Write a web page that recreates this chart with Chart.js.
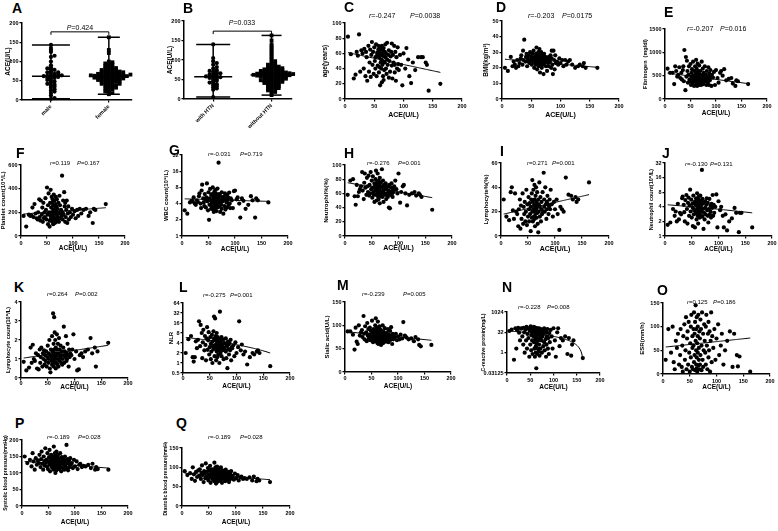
<!DOCTYPE html>
<html>
<head>
<meta charset="utf-8">
<script src="https://cdn.jsdelivr.net/npm/chart.js@4.4.1/dist/chart.umd.min.js"></script>
<style>
  body { margin: 0; background: #fff; width: 778px; height: 531px; position: relative; overflow: hidden;
         font-family: "Liberation Sans", Arial, sans-serif; color: #000; }
  canvas { position: absolute; }
  .letter { position: absolute; font-weight: bold; font-size: 14px; line-height: 1; }
  .stat { position: absolute; line-height: 1; white-space: pre; }
</style>
</head>
<body>
<script>
const FONT = '"Liberation Sans", Arial, sans-serif';

// ACE (U/L) of each patient, shared x for the correlation panels
const ace = [
  5, 10, 15, 18, 20, 22, 24, 26, 28, 30,
  32, 33, 35, 36, 37, 38, 40, 41, 42, 43, 44, 45,
  46, 47, 48, 49, 50, 51, 52, 52, 53, 54, 55, 55, 56, 57,
  57, 58, 58, 59, 59, 60, 60, 61, 61, 62, 62, 62, 63, 63, 63, 64, 64, 65, 65, 65, 66, 66, 67, 67, 68, 68,
  69, 69, 70, 70, 71, 72, 72, 73, 74, 75, 75, 76, 77, 78,
  79, 80, 80, 81, 82, 83, 84, 85, 85, 86, 87, 88, 89, 90, 91, 92,
  94, 96, 98, 100, 103, 105, 108, 110, 113, 116,
  120, 125, 130, 133, 138, 140, 143, 163
];
const aceTicks = [0, 50, 100, 150, 200];

// A / B: ACE by group
const maleAce = [3, 5, 12, 18, 22, 25, 28, 32, 35, 38, 40, 42, 45, 48, 50, 52, 55, 57, 58, 60, 60, 62, 62, 63, 64,
  65, 66, 68, 70, 72, 72, 75, 78, 80, 82, 85, 90, 100, 112, 115, 125, 130, 135, 143];
const femaleAce = [15, 18, 20, 22, 25, 28, 30, 30, 32, 35, 35, 38, 38, 40, 40, 42, 42, 44, 45, 45, 47, 48, 48, 50,
  50, 50, 52, 52, 53, 54, 55, 55, 55, 56, 57, 57, 58, 58, 59, 60, 60, 60, 61, 62, 62, 62, 63, 63, 64, 64, 65, 65,
  65, 66, 66, 67, 68, 68, 69, 70, 70, 71, 72, 72, 73, 74, 75, 75, 76, 78, 78, 80, 80, 82, 83, 85, 85, 88, 90, 92,
  95, 95, 98, 100, 122, 130, 163];
const sexMedian = [62, 62];
const htnAce = [5, 24, 27, 30, 33, 35, 38, 40, 42, 45, 47, 50, 52, 54, 55, 56, 57, 58, 60, 62, 63, 65, 66, 68, 70,
  72, 74, 78, 82, 88, 92, 97, 105, 140];
const noHtnAce = [10, 15, 18, 20, 22, 24, 25, 27, 28, 30, 30, 32, 33, 35, 35, 37, 38, 40, 40, 41, 42, 43, 44, 45,
  45, 46, 47, 48, 48, 49, 50, 50, 51, 52, 52, 53, 54, 55, 55, 56, 57, 57, 58, 58, 59, 60, 60, 60, 61, 61, 62, 62,
  62, 63, 63, 64, 64, 65, 65, 65, 66, 66, 67, 67, 68, 68, 69, 70, 70, 71, 72, 72, 73, 74, 75, 75, 76, 77, 78, 79,
  80, 80, 82, 83, 85, 86, 88, 90, 92, 95, 97, 100, 105, 110, 115, 120, 125, 130, 135, 140, 150, 163];
const htnMedian = [57, 61.5];
const groupTicks = [0, 50, 100, 150, 200];

// C .. Q: y values (same order as ace) and fitted line at min / max ACE
const age = [82, 59, 27, 32, 62, 57, 85, 36, 64, 60,
  40, 66, 30, 62, 55, 24, 70, 36, 48, 65, 29, 58,
  75, 45, 62, 33, 68, 50, 40, 55, 72, 30, 61, 58, 44, 65,
  70, 35, 55, 62, 42, 68, 18, 58, 48, 66, 40, 52, 60, 22, 70, 45, 57, 64, 30, 50, 67, 25, 56, 38, 62, 48,
  55, 72, 40, 60, 33, 52, 74, 45, 58, 28, 64, 50, 36, 56,
  62, 44, 73, 27, 58, 48, 70, 35, 45, 62, 24, 55, 40, 68, 46, 38,
  58, 45, 18, 60, 40, 67, 52, 30, 21, 48,
  38, 55, 55, 55, 48, 45, 11, 20];
const ageTicks = [0, 20, 40, 60, 80, 100];
const ageFit = [61, 35];

const bmi = [20, 18, 27, 21, 24, 22, 20, 25, 21, 23,
  26, 28, 22, 31, 25, 38, 24, 27, 29, 21, 26, 24,
  28, 23, 30, 25, 27, 22, 26, 29, 24, 31, 25, 20, 27, 23,
  26, 29, 22, 33, 25, 27, 19, 28, 24, 30, 26, 23, 27, 21, 29, 25, 32, 24, 28, 17, 26, 22, 30, 25, 20, 27,
  24, 28, 22, 26, 16, 25, 29, 23, 27, 21, 24, 26, 18, 25,
  23, 27, 21, 25, 24, 28, 20, 26, 31, 22, 16, 31, 25, 19, 28, 23,
  24, 22, 26, 23, 25, 21, 25, 22, 24, 25,
  22, 20, 21, 22, 21, 23, 20, 20];
const bmiTicks = [0, 10, 20, 30, 40, 50];
const bmiFit = [25.5, 20.3];

const fib = [650, 560, 560, 320, 700, 600, 480, 520, 680, 450,
  560, 420, 620, 700, 380, 1050, 190, 900, 480, 820, 600, 350,
  520, 700, 420, 380, 750, 300, 560, 480, 640, 350, 420, 800, 500, 280,
  450, 600, 380, 700, 520, 300, 480, 840, 420, 560, 350, 650, 400, 280, 500, 760, 430, 330, 600, 470, 380, 540, 300, 720, 450, 400,
  350, 600, 420, 520, 300, 800, 450, 380, 650, 500, 320, 560, 420, 700,
  380, 520, 450, 300, 600, 420, 350, 680, 480, 300, 550, 400, 620, 460, 280, 520,
  460, 580, 300, 620, 450, 350, 560, 600, 500, 640,
  400, 430, 450, 330, 280, 400, 380, 320];
const fibTicks = [0, 500, 1000, 1500];
const fibFit = [555, 330];

const plt = [170, 80, 180, 170, 175, 240, 160, 270, 190, 150,
  140, 200, 310, 160, 130, 300, 180, 240, 120, 280, 150, 200,
  160, 320, 220, 140, 410, 180, 260, 100, 360, 200, 130, 80, 280, 170,
  390, 150, 240, 200, 330, 120, 280, 180, 310, 220, 100, 260, 160, 350, 200, 140, 300, 230, 110, 190, 270, 150, 330, 210, 120, 250,
  180, 310, 140, 230, 160, 280, 200, 120, 340, 190, 260, 150, 220, 170,
  510, 200, 140, 300, 180, 370, 250, 120, 280, 160, 220, 300, 110, 190, 250, 140,
  200, 160, 230, 180, 210, 150, 220, 170, 230, 190,
  220, 230, 170, 200, 110, 230, 220, 270];
const pltTicks = [0, 200, 400, 600];
const pltFit = [186, 239];

const wbc = [3, 2.6, 4.2, 4.5, 4.4, 5.2, 4.0, 3.8, 4.6, 4.3,
  5.5, 6.2, 4.0, 3.3, 7.0, 9.0, 5.0, 4.2, 3.6, 6.0, 4.8, 3.4,
  5.2, 9.5, 4.4, 3.0, 6.5, 2.0, 5.0, 3.8, 7.5, 4.6, 3.2, 5.8, 4.1, 3.5,
  6.0, 4.2, 8.0, 3.1, 5.2, 4.7, 2.8, 6.6, 3.8, 4.4, 5.5, 3.3, 7.2, 4.0, 5.0, 3.6, 6.2, 4.6, 2.9, 5.4, 3.9, 4.8, 7.6, 3.4, 5.7, 4.3,
  23, 5.2, 3.5, 6.0, 4.2, 2.8, 5.6, 4.5, 3.8, 6.5, 3.2, 5.0, 4.4, 2.6,
  5.4, 3.6, 4.8, 6.2, 3.1, 5.0, 4.2, 5.8, 3.4, 4.6, 5.2, 3.8, 6.4, 4.0, 3.3, 5.0,
  4.6, 3.3, 6.8, 7.0, 4.8, 5.2, 4.0, 2.2, 5.0, 4.5,
  3.2, 3.8, 5.5, 4.6, 2.2, 5.0, 4.6, 4.2];
const wbcTicks = [1, 2, 4, 8, 16, 32];
const wbcFit = [4.9, 4.4];

const neuPct = [58, 78, 80, 56, 44, 72, 56, 62, 66, 70,
  90, 64, 52, 75, 88, 68, 58, 82, 70, 62, 85, 57,
  72, 60, 90, 66, 78, 54, 68, 84, 62, 58, 74, 48, 70, 80,
  65, 92, 58, 72, 50, 76, 62, 68, 88, 55, 70, 64, 60, 78, 52, 74, 66, 58, 82, 46, 70, 62, 75, 56, 68, 60,
  94, 62, 70, 55, 78, 64, 48, 72, 60, 68, 58, 74, 52, 66,
  60, 70, 55, 64, 40, 72, 39, 62, 58, 68, 74, 60, 55, 66, 62, 70,
  78, 66, 60, 88, 47, 62, 70, 72, 60, 43,
  58, 60, 62, 57, 60, 58, 55, 37];
const neuPctTicks = [0, 20, 40, 60, 80, 100];
const neuPctFit = [75, 54];

const lymPct = [30, 16, 13, 36, 40, 21, 14, 35, 20, 18,
  8, 22, 30, 6, 25, 14, 35, 10, 24, 18, 28, 12,
  20, 38, 9, 26, 16, 32, 22, 12, 27, 18, 4, 24, 30, 15,
  35, 20, 46, 12, 28, 22, 38, 16, 25, 30, 14, 42, 20, 26, 8, 33, 18, 24, 40, 22, 15, 28, 19, 36, 10, 24,
  3, 30, 20, 26, 44, 16, 24, 32, 12, 22, 28, 18, 36, 20,
  52, 24, 30, 20, 40, 26, 14, 28, 22, 33, 26, 18, 24, 30, 22, 38,
  26, 16, 28, 22, 30, 18, 5, 24, 22, 20,
  48, 34, 33, 30, 32, 28, 30, 44];
const lymPctTicks = [0, 20, 40, 60];
const lymPctFit = [18, 34];

const neuCount = [1.7, 1.9, 3.6, 2.6, 3.2, 2.0, 4.6, 2.2, 3.0, 2.8,
  6.0, 6.5, 4.4, 3.1, 2.0, 5.5, 7.0, 3.6, 1.8, 4.8, 6.2, 2.6,
  4.2, 9.0, 3.2, 5.6, 2.4, 4.6, 1.6, 3.8, 6.8, 2.8, 5.0, 3.4, 1.5, 4.4,
  5.2, 3.0, 6.0, 4.4, 2.2, 7.6, 3.6, 4.8, 2.6, 5.6, 4.0, 1.8, 3.4, 6.4, 2.9, 4.6, 3.2, 5.0, 2.4, 4.2, 3.8, 6.8, 2.7, 4.0, 3.2, 5.4,
  23, 4.5, 2.5, 5.8, 3.6, 1.4, 4.8, 3.0, 2.2, 5.2, 3.8, 2.8, 4.4, 6.0,
  3.4, 2.6, 4.8, 1.9, 3.6, 5.8, 2.8, 4.2, 3.2, 2.4, 4.6, 3.8, 7.0, 2.6, 4.4, 3.0,
  4.0, 7.2, 1.5, 5.2, 3.4, 4.0, 2.6, 1.5, 2.8, 1.3,
  2.0, 2.3, 3.8, 3.0, 1.2, 3.0, 3.0, 1.5];
const neuCountTicks = [1, 2, 4, 8, 16, 32];
const neuCountFit = [4.4, 3.0];

const lymCount = [0.85, 0.4, 0.55, 1.6, 0.8, 1.75, 1.0, 0.9, 1.3, 0.5,
  1.2, 0.45, 1.5, 0.8, 1.1, 1.6, 0.6, 1.3, 1.0, 1.45, 0.7, 1.2,
  0.9, 1.4, 0.6, 1.1, 1.7, 0.8, 1.3, 1.0, 2.0, 0.5, 1.2, 0.3, 1.5, 0.9,
  1.1, 2.2, 0.7, 1.4, 0.9, 3.4, 1.2, 1.8, 0.6, 3.2, 1.0, 1.5, 2.4, 0.8, 1.3, 1.1, 2.0, 0.5, 1.6, 1.0, 1.3, 0.8, 2.3, 1.2, 0.7, 1.5,
  1.0, 1.8, 0.6, 1.3, 2.1, 0.9, 1.5, 1.1, 1.7, 0.8, 1.2, 1.4, 0.7, 1.0,
  1.6, 1.2, 2.7, 0.8, 1.4, 1.1, 2.2, 0.9, 1.3, 1.0, 1.8, 1.2, 0.6, 1.5, 1.1, 1.3,
  1.2, 1.5, 2.3, 1.0, 1.4, 0.4, 0.45, 1.2, 1.3, 1.1,
  1.4, 1.5, 2.1, 1.3, 1.6, 0.6, 1.4, 1.85];
const lymCountTicks = [0, 1, 2, 3, 4];
const lymCountFit = [1.05, 1.72];

const nlr = [2.0, 5.2, 6.5, 1.5, 1.1, 1.5, 4.5, 2.8, 5.0, 18,
  3.2, 14, 8.0, 1.4, 4.2, 10, 2.4, 6.5, 3.5, 1.2, 5.5, 12,
  2.5, 4.8, 8.5, 1.8, 3.0, 6.0, 1.3, 3.8, 2.2, 7.0, 4.4, 1.0, 3.2, 9.0,
  2.6, 5.4, 25, 3.4, 1.6, 4.8, 22, 2.8, 6.5, 1.2, 3.6, 5.0, 2.2, 8.0, 3.0, 1.5, 4.2, 2.6, 6.0, 3.4, 1.8, 4.6, 2.4, 3.8, 1.0, 5.2,
  35, 3.2, 2.0, 4.4, 2.8, 6.0, 1.6, 3.6, 2.4, 5.0, 3.0, 1.3, 4.0, 2.6,
  3.8, 2.2, 5.5, 1.4, 3.2, 0.7, 4.4, 2.6, 3.6, 1.8, 4.0, 2.4, 5.0, 1.2, 3.0, 2.8,
  3.4, 1.6, 4.2, 2.0, 3.0, 18, 2.4, 3.6, 1.8, 2.2,
  0.9, 1.5, 2.0, 1.8, 2.2, 2.4, 2.0, 0.8];
const nlrTicks = [0.5, 1, 2, 4, 8, 16, 32, 64];
const nlrFit = [5.9, 2.0];

const sialic = [87, 87, 80, 48, 95, 65, 60, 100, 78, 85,
  90, 75, 120, 82, 70, 98, 85, 66, 105, 78, 92, 72,
  80, 95, 68, 88, 76, 110, 72, 84, 64, 92, 78, 70, 86, 100,
  75, 115, 66, 88, 80, 72, 95, 62, 84, 78, 108, 70, 90, 76, 60, 86, 74, 98, 68, 82, 64, 92, 78, 70, 85, 58,
  72, 88, 66, 80, 100, 74, 62, 86, 78, 94, 70, 82, 65, 76,
  84, 70, 78, 92, 64, 80, 74, 88, 68, 76, 96, 72, 60, 82, 70, 78,
  74, 82, 68, 76, 70, 80, 72, 107, 78, 74,
  70, 72, 66, 75, 70, 58, 55, 58];
const sialicTicks = [0, 50, 100, 150];
const sialicFit = [86, 68];

const crp = [40, 50, 0.3, 64, 2.0, 45, 70, 30, 8, 60,
  64, 16, 4, 70, 32, 1, 50, 8, 80, 2, 24, 64,
  12, 60, 0.5, 40, 4, 90, 20, 1.5, 64, 8, 32, 0.8, 50, 16,
  32, 6, 80, 2, 48, 0.5, 64, 10, 24, 1, 70, 3, 40, 16, 0.07, 56, 5, 32, 0.8, 12, 64, 2, 24, 8, 44, 1.2,
  64, 4, 20, 0.6, 40, 12, 2, 56, 8, 30, 1, 16, 48, 3,
  24, 6, 64, 1.5, 40, 10, 0.5, 32, 4, 16, 56, 2, 12, 0.8, 28, 6,
  48, 16, 2, 64, 8, 0.5, 32, 64, 3, 12,
  8, 16, 0.8, 12, 0.6, 4, 8, 0.4];
const crpTicks = [0.03125, 1, 32, 1024];
const crpFit = [40, 0.3];

const esr = [30, 95, 45, 100, 25, 10, 70, 55, 85, 20,
  40, 95, 15, 60, 5, 80, 105, 30, 50, 120, 10, 75,
  90, 20, 110, 45, 5, 65, 100, 35, 125, 15, 80, 55, 10, 95,
  60, 130, 25, 85, 40, 110, 8, 70, 145, 20, 50, 95, 12, 120, 35, 65, 5, 100, 45, 80, 18, 125, 30, 55, 90, 10,
  75, 20, 115, 40, 95, 8, 60, 130, 30, 85, 15, 50, 105, 70,
  45, 100, 20, 125, 60, 10, 85, 35, 110, 50, 90, 5, 70, 130, 25, 80,
  55, 95, 30, 75, 105, 40, 60, 85, 20, 50,
  70, 90, 15, 85, 40, 16, 37, 5];
const esrTicks = [0, 50, 100, 150];
const esrFit = [57, 76];

const sbp = [150, 130, 140, 120, 160, 135, 110, 145, 125, 138,
  130, 155, 118, 142, 165, 128, 110, 150, 136, 122, 175, 132,
  140, 120, 160, 112, 135, 148, 125, 170, 105, 138, 128, 155, 118, 142,
  132, 150, 115, 140, 125, 180, 110, 135, 145, 120, 160, 128, 100, 138, 152, 118, 130, 165, 108, 142, 126, 148, 114, 136, 122, 155,
  130, 145, 112, 138, 125, 160, 118, 135, 105, 148, 128, 140, 115, 132,
  125, 140, 110, 150, 120, 135, 185, 115, 130, 142, 108, 128, 138, 118, 145, 125,
  130, 115, 140, 120, 135, 112, 125, 128, 118, 122,
  120, 125, 115, 128, 110, 118, 112, 110];
const sbpTicks = [0, 50, 100, 150, 200];
const sbpFit = [135, 115];

const dbp = [90, 80, 85, 70, 100, 82, 65, 88, 75, 92,
  78, 95, 70, 86, 105, 80, 62, 90, 84, 72, 110, 76,
  88, 72, 98, 66, 82, 92, 75, 104, 60, 85, 78, 95, 70, 86,
  80, 94, 68, 86, 74, 112, 64, 82, 90, 72, 100, 78, 58, 84, 96, 70, 80, 102, 62, 88, 76, 92, 66, 82, 72, 95,
  78, 90, 65, 84, 74, 100, 68, 82, 60, 92, 76, 86, 70, 80,
  74, 86, 64, 94, 70, 82, 76, 68, 80, 88, 62, 78, 84, 70, 90, 74,
  78, 68, 84, 72, 80, 66, 74, 76, 70, 72,
  70, 74, 66, 76, 64, 70, 66, 62];
const dbpTicks = [0, 50, 100, 150];
const dbpFit = [85, 68];

// ---------- layout ----------
const scatterPanels = [
  {y: age, ticks: ageTicks, fit: ageFit, title: 'age(years)', box: [345, 23, 462, 99], yt: 20, xt: 16, yts: 6.5, xts: 7},
  {y: bmi, ticks: bmiTicks, fit: bmiFit, title: 'BMI(kg/m²)', box: [502, 21, 619, 99], yt: 16, xt: 16, yts: 6.5, xts: 7},
  {y: fib, ticks: fibTicks, fit: fibFit, title: 'Fibrinogen  (mg/dl)', box: [665, 29, 767, 99], yt: 20, xt: 14, yts: 5.5, xts: 6.5},
  {y: plt, ticks: pltTicks, fit: pltFit, title: 'Platelet count(10⁹/L)', box: [21, 165, 125, 236], yt: 17, xt: 12, yts: 6, xts: 6.5},
  {y: wbc, ticks: wbcTicks, fit: wbcFit, log: true, title: 'WBC count(10⁹/L)', box: [182, 155, 288, 236], yt: 15, xt: 13, yts: 6, xts: 6.5},
  {y: neuPct, ticks: neuPctTicks, fit: neuPctFit, title: 'Neutrophil%(%)', box: [345, 165, 452, 236], yt: 18, xt: 12, yts: 6, xts: 7},
  {y: lymPct, ticks: lymPctTicks, fit: lymPctFit, title: 'Lymphocyte%(%)', box: [501, 163, 609, 236], yt: 14, xt: 13, yts: 6, xts: 7},
  {y: neuCount, ticks: neuCountTicks, fit: neuCountFit, log: true, title: 'Neutrophil count(10⁹/L)', box: [665, 163, 772, 236], yt: 14, xt: 13, yts: 5.5, xts: 6.5},
  {y: lymCount, ticks: lymCountTicks, fit: lymCountFit, title: 'Lymphocyte count(10⁹/L)', box: [21, 302, 128, 378], yt: 13, xt: 9, yts: 5.5, xts: 6.5, xpad: 0},
  {y: nlr, ticks: nlrTicks, fit: nlrFit, log: true, title: 'NLR', box: [183, 303, 290, 373], yt: 11, xt: 13, yts: 6, xts: 6.5, xpad: 0},
  {y: sialic, ticks: sialicTicks, fit: sialicFit, title: 'Sialic acid(U/L)', box: [345, 302, 451, 372], yt: 17, xt: 14, yts: 6, xts: 6.5, xpad: 0.5},
  {y: crp, ticks: crpTicks, fit: crpFit, log: true, title: 'C-reactive protein(mg/L)', box: [507, 312, 600, 373], yt: 23, xt: 14, yts: 5, xts: 6.5},
  {y: esr, ticks: esrTicks, fit: esrFit, title: 'ESR(mm/h)', box: [663, 303, 770, 374], yt: 20, xt: 13, yts: 6, xts: 6.5},
  {y: sbp, ticks: sbpTicks, fit: sbpFit, title: 'Systolic blood pressure(mmHg)', box: [22, 440, 128, 506], yt: 16, xt: 16, yts: 5, xts: 6.5},
  {y: dbp, ticks: dbpTicks, fit: dbpFit, title: 'Diastolic blood pressure(mmHg)', box: [182, 448, 290, 506], yt: 16, xt: 16, yts: 5, xts: 6.5}
];

const groupPanels = [
  {groups: [maleAce, femaleAce], names: ['male', 'female'], styles: ['circle', 'rect'], med: sexMedian,
   box: [22, 23, 132, 100], xr: [0.5, 2.4], medHalf: [19, 20], capHalf: [19, 11], bracket: 177},
  {groups: [htnAce, noHtnAce], names: ['with HTN', 'without HTN'], styles: ['circle', 'rect'], med: htnMedian,
   box: [184, 21, 292, 99], xr: [0.5, 2.35], medHalf: [19, 21], capHalf: [17, 10], bracket: 174}
];

const letters = [
  ['A', 12, 1], ['B', 183, 1], ['C', 344, 0], ['D', 496, 0], ['E', 664, 5],
  ['F', 16, 146], ['G', 169, 143], ['H', 344, 146], ['I', 500, 144], ['J', 662, 146],
  ['K', 14, 280], ['L', 179, 280], ['M', 337, 278], ['N', 502, 280], ['O', 657, 283],
  ['P', 15, 416], ['Q', 176, 416]
];

// r text, P text, r left, P left, centre y, font size
const stats = [
  ['-0.247', '0.0038', 369, 410, 15, 7], ['-0.203', '0.0175', 528, 562, 15, 7], ['-0.207', '0.016', 687, 720, 28, 7],
  ['0.119', '0.167', 50, 77, 163, 6], ['-0.031', '0.719', 208, 240, 154, 6], ['-0.276', '0.001', 367, 398, 163, 6],
  ['0.271', '0.001', 527, 552, 163, 6], ['-0.130', '0.131', 685, 710, 164, 6],
  ['0.264', '0.002', 47, 75, 294, 6], ['-0.275', '0.001', 203, 230, 295, 6], ['-0.239', '0.005', 362, 403, 294, 6],
  ['-0.228', '0.008', 518, 547, 307, 6], ['0.125', '0.186', 687, 713, 302, 6],
  ['-0.189', '0.028', 47, 78, 437, 6], ['-0.189', '0.028', 208, 240, 437, 6]
];
const groupP = [['0.424', 80, 27], ['0.033', 242, 22]];

// ---------- helpers ----------
function addDiv(cls, html, left, top, size) {
  const d = document.createElement('div');
  d.className = cls;
  d.innerHTML = html;
  d.style.left = left + 'px';
  d.style.top = top + 'px';
  if (size) d.style.fontSize = size + 'px';
  document.body.appendChild(d);
  return d;
}

function makeCanvas(left, top, w, h) {
  const c = document.createElement('canvas');
  c.width = w; c.height = h;
  c.style.left = left + 'px'; c.style.top = top + 'px';
  c.style.width = w + 'px'; c.style.height = h + 'px';
  document.body.appendChild(c);
  return c;
}

function axis(o) {
  return {
    type: o.type, min: o.min, max: o.max,
    afterBuildTicks: s => { s.ticks = o.list.map(v => ({value: v})); },
    afterFit: s => { if (s.isHorizontal()) s.height = o.extent; else s.width = o.extent; },
    border: {display: true, color: '#000', width: 1.5},
    grid: {drawOnChartArea: false, drawTicks: true, tickLength: 2.5, color: '#000', lineWidth: 1.2},
    ticks: {
      color: '#000', padding: o.pad, autoSkip: false, maxRotation: o.rot || 0, minRotation: o.rot || 0,
      font: {family: FONT, size: 5.5, weight: 'bold'},
      callback: o.labels || (v => String(v))
    },
    title: {display: !!o.title, text: o.title, color: '#000', padding: 0, font: {family: FONT, size: o.titleSize, weight: 'bold'}}
  };
}

// regression line y = a + b*x, drawn through the chart's scales
const fitLine = {
  id: 'fitLine',
  afterDatasetsDraw(chart, args, o) {
    const {x, y} = chart.scales;
    const ctx = chart.ctx;
    const [y0, y1] = o.ends;
    ctx.save();
    ctx.strokeStyle = '#000';
    ctx.lineWidth = 1;
    ctx.beginPath();
    for (let k = 0; k <= 80; k++) {
      const xv = o.from + (o.to - o.from) * k / 80;
      const yv = y0 + (y1 - y0) * (xv - o.from) / (o.to - o.from);
      const px = x.getPixelForValue(xv), py = y.getPixelForValue(yv);
      if (k === 0) ctx.moveTo(px, py); else ctx.lineTo(px, py);
    }
    ctx.stroke();
    ctx.restore();
  }
};

// median line, range whiskers and comparison bracket
const groupLines = {
  id: 'groupLines',
  afterDatasetsDraw(chart, args, o) {
    const {x, y} = chart.scales;
    const ctx = chart.ctx;
    const seg = (a, b, c, d) => { ctx.beginPath(); ctx.moveTo(a, b); ctx.lineTo(c, d); ctx.stroke(); };
    ctx.save();
    ctx.strokeStyle = '#000';
    ctx.lineWidth = 1.5;
    o.med.forEach((m, g) => {
      const cx = x.getPixelForValue(g + 1);
      const ym = y.getPixelForValue(m), yl = y.getPixelForValue(o.lo[g]), yh = y.getPixelForValue(o.hi[g]);
      seg(cx - o.medHalf[g], ym, cx + o.medHalf[g], ym);
      seg(cx, yl, cx, yh);
      seg(cx - o.capHalf[g], yl, cx + o.capHalf[g], yl);
      seg(cx - o.capHalf[g], yh, cx + o.capHalf[g], yh);
    });
    const yb = y.getPixelForValue(o.bracket), xa = x.getPixelForValue(1), xb = x.getPixelForValue(2);
    ctx.lineWidth = 1;
    ctx.beginPath();
    ctx.moveTo(xa, yb + 3); ctx.lineTo(xa, yb); ctx.lineTo(xb, yb); ctx.lineTo(xb, yb + 3);
    ctx.stroke();
    ctx.restore();
  }
};

// scatter-dot-plot placement: points of a group spread sideways in slots
function swarm(values, center, stepX, gapY) {
  const placed = [];
  return values.slice().sort((a, b) => a - b).map(v => {
    for (let k = 0; ; k++) {
      const slot = k === 0 ? 0 : (k % 2 ? (k + 1) / 2 : -k / 2);
      if (!placed.some(p => p.slot === slot && Math.abs(p.v - v) < gapY)) {
        placed.push({v, slot});
        return {x: center + slot * stepX, y: v};
      }
    }
  });
}

const baseOptions = (padT, padR) => ({
  responsive: false, animation: false, devicePixelRatio: 1, events: [],
  layout: {padding: {top: padT, right: padR, left: 0, bottom: 0}}
});

function scatterPanel(p) {
  const [L, T, R, B] = p.box;
  const yW = Math.round(p.yt + p.yts * 0.6);
  const xH = Math.round(p.xt + p.xts * 0.6);
  const padT = 6, padR = 8;
  const c = makeCanvas(L - yW, T - padT, yW + (R - L) + padR, padT + (B - T) + xH);
  const opts = baseOptions(padT, padR);
  opts.plugins = {
    legend: {display: false}, tooltip: {enabled: false},
    fitLine: {ends: p.fit, from: Math.min(...ace), to: Math.max(...ace)}
  };
  opts.scales = {
    x: axis({type: 'linear', min: 0, max: 200, list: aceTicks, extent: xH, pad: p.xpad ?? 1.5,
             title: 'ACE(U/L)', titleSize: p.xts}),
    y: axis({type: p.log ? 'logarithmic' : 'linear', min: p.ticks[0], max: p.ticks[p.ticks.length - 1],
             list: p.ticks, extent: yW, pad: 1, title: p.title, titleSize: p.yts})
  };
  new Chart(c, {
    type: 'scatter',
    data: {datasets: [{data: ace.map((x, i) => ({x, y: p.y[i]})), pointRadius: 2.1, pointHoverRadius: 2.1,
                       backgroundColor: '#000', borderWidth: 0, clip: false}]},
    options: opts,
    plugins: [fitLine]
  });
}

function groupPanel(p) {
  const [L, T, R, B] = p.box;
  const yW = 18, xH = 34, padT = 6, padR = 8;
  const c = makeCanvas(L - yW, T - padT, yW + (R - L) + padR, padT + (B - T) + xH);
  const unitsPerPx = (p.xr[1] - p.xr[0]) / (R - L);
  const opts = baseOptions(padT, padR);
  opts.plugins = {
    legend: {display: false}, tooltip: {enabled: false},
    groupLines: {med: p.med, lo: p.groups.map(g => Math.min(...g)), hi: p.groups.map(g => Math.max(...g)),
                 medHalf: p.medHalf, capHalf: p.capHalf, bracket: p.bracket}
  };
  opts.scales = {
    x: axis({type: 'linear', min: p.xr[0], max: p.xr[1], list: [1, 2], extent: xH, pad: 1, rot: 45,
             labels: v => p.names[v - 1]}),
    y: axis({type: 'linear', min: 0, max: 200, list: groupTicks, extent: yW, pad: 1, title: 'ACE(U/L)', titleSize: 6.5})
  };
  new Chart(c, {
    type: 'scatter',
    data: {datasets: p.groups.map((vals, g) => ({
      data: swarm(vals, g + 1, 3.6 * unitsPerPx, 5),
      pointStyle: p.styles[g], pointRadius: p.styles[g] === 'rect' ? 2.7 : 2.1, pointHoverRadius: 2.1,
      backgroundColor: '#000', borderWidth: 0, clip: false
    }))},
    options: opts,
    plugins: [groupLines]
  });
}

groupPanels.forEach(groupPanel);
scatterPanels.forEach(scatterPanel);

letters.forEach(([t, x, y]) => addDiv('letter', t, x, y));
stats.forEach(([r, pv, rx, px, cy, s]) => {
  addDiv('stat', '<i>r</i>=' + r, rx, cy - s * 0.5, s);
  addDiv('stat', '<i>P</i>=' + pv, px, cy - s * 0.5, s);
});
groupP.forEach(([pv, cx, cy]) => {
  const d = addDiv('stat', '<i>P</i>=' + pv, cx, cy - 3.5, 7);
  d.style.transform = 'translateX(-50%)';
});
</script>
</body>
</html>
